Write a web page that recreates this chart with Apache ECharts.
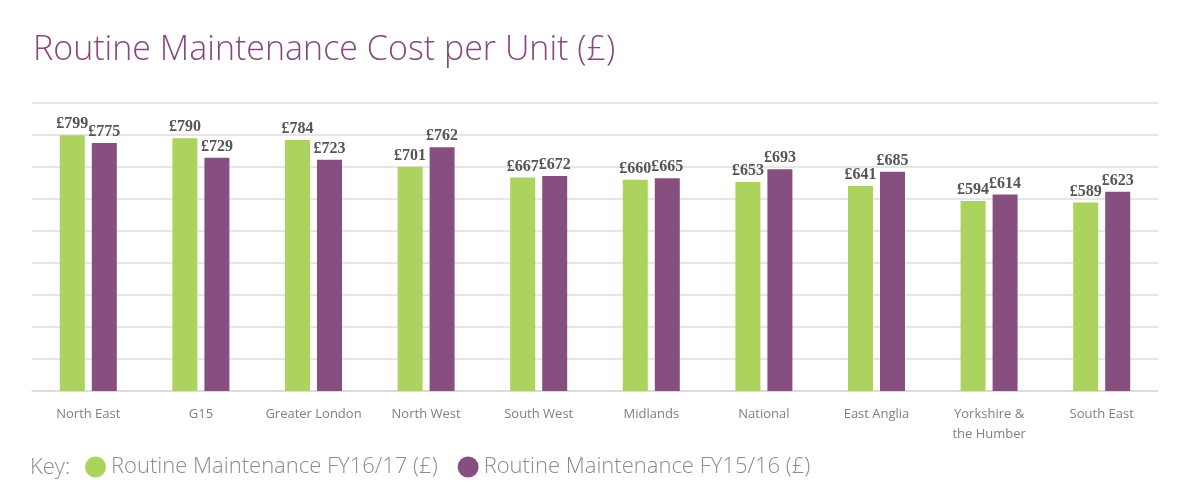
<!DOCTYPE html>
<html>
<head>
<meta charset="utf-8">
<script src="https://cdn.jsdelivr.net/npm/echarts@6/dist/echarts.min.js"></script>
<style>
html,body{margin:0;padding:0;background:#fff;}
#chart{width:1200px;height:500px;}
</style>
</head>
<body>
<div id="chart"></div>
<script>
const categories = ["North East","G15","Greater London","North West","South West","Midlands","National","East Anglia","Yorkshire &\nthe Humber","South East"];
const fy1617 = [799,790,784,701,667,660,653,641,594,589];
const fy1516 = [775,729,723,762,672,665,693,685,614,623];
const seriesNames = ["Routine Maintenance FY16/17 (£)","Routine Maintenance FY15/16 (£)"];
const yTicks = {min:0,max:900,interval:100};

const chart = echarts.init(document.getElementById('chart'));
const labelStyle = {
  show:true, position:'top', distance:3,
  formatter:p=>'£'+p.value,
  fontFamily:'"Liberation Serif", serif', fontWeight:'bold', fontSize:16, color:'#555'
};
chart.setOption({
  animation:false,
  backgroundColor:'#fff',
  title:{
    text:'Routine Maintenance Cost per Unit (£)',
    left:28, top:28,
    textStyle:{fontFamily:'"Open Sans", sans-serif', fontWeight:300, fontSize:34, color:'#87477f'}
  },
  graphic:[{type:'text', left:30, top:457, style:{text:'Key:', fontFamily:'"Open Sans", sans-serif', fontWeight:300, fontSize:22, fill:'#8c8c8c', textVerticalAlign:'top'}}],
  legend:{
    left:80, top:451, itemWidth:21, itemHeight:21, itemGap:20, icon:'circle',
    textStyle:{fontFamily:'"Open Sans", sans-serif', fontWeight:300, fontSize:22, color:'#8c8c8c'},
    data:seriesNames
  },
  grid:{left:32, right:42, top:103, bottom:109},
  xAxis:{
    type:'category', data:categories,
    axisLine:{lineStyle:{color:'#d9d9d9', width:1.5}},
    axisTick:{show:false},
    axisLabel:{interval:0, fontFamily:'"Open Sans", sans-serif', fontSize:13, color:'#808080', margin:13, lineHeight:20}
  },
  yAxis:{
    type:'value', min:yTicks.min, max:yTicks.max, interval:yTicks.interval,
    axisLabel:{show:false}, axisLine:{show:false}, axisTick:{show:false},
    splitLine:{lineStyle:{color:'#dedede', width:1.5}}
  },
  series:[
    {name:seriesNames[0], type:'bar', data:fy1617, barWidth:25, barGap:'28%', itemStyle:{color:'#acd35d'}, label:labelStyle},
    {name:seriesNames[1], type:'bar', data:fy1516, barWidth:25, itemStyle:{color:'#874e80'}, label:labelStyle}
  ]
});
</script>
</body>
</html>
